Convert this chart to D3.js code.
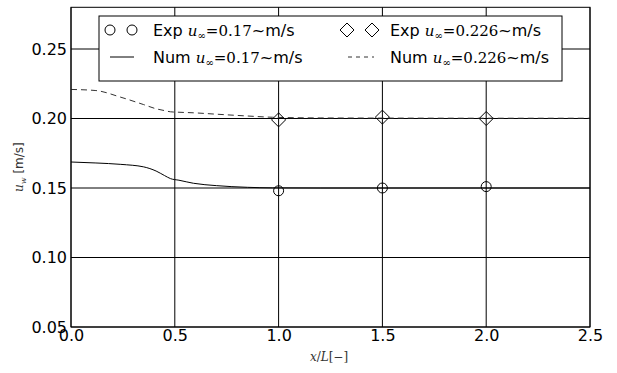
<!DOCTYPE html>
<html>
<head>
<meta charset="utf-8">
<script src="https://cdn.jsdelivr.net/npm/d3@7"></script>
<style>
  html, body { margin: 0; padding: 0; background: #fff; }
  svg { display: block; }
</style>
</head>
<body>
<svg id="chart" width="617" height="373"></svg>
<script>
// Wind velocity along the domain: measured points and numerical profiles
const expX = [1.0, 1.5, 2.0];
const exp017 = [0.148, 0.150, 0.151];
const exp0226 = [0.199, 0.201, 0.200];

const numX = [0.0, 0.12, 0.24, 0.35, 0.41, 0.45, 0.48, 0.52, 0.59, 0.70, 0.85, 0.97, 1.2, 1.5, 2.0, 2.5];
const num017 = [0.1687, 0.1680, 0.1670, 0.1652, 0.1622, 0.1590, 0.1567, 0.1556, 0.1534, 0.1517, 0.1505, 0.1501, 0.1500, 0.1500, 0.1500, 0.1500];
const num0226 = [0.2209, 0.2201, 0.2153, 0.2100, 0.2070, 0.2057, 0.2048, 0.2045, 0.2041, 0.2031, 0.2018, 0.2009, 0.2004, 0.2003, 0.2002, 0.2002];

const xTicks = [0.0, 0.5, 1.0, 1.5, 2.0, 2.5];
const yTicks = [0.05, 0.10, 0.15, 0.20, 0.25];

const svg = d3.select("#chart");
const pL = 71, pR = 590, pT = 7.3, pB = 327;

const x = d3.scaleLinear().domain([0, 2.5]).range([pL, pR]);
const y = d3.scaleLinear().domain([0.05, 0.28]).range([pB, pT]);

const sans = "'DejaVu Sans', sans-serif";
const serif = "'DejaVu Serif', serif";

// grid
const g = svg.append("g");
g.selectAll("line.gx").data(xTicks).enter().append("line")
  .attr("x1", d => x(d)).attr("x2", d => x(d))
  .attr("y1", pT).attr("y2", pB)
  .attr("stroke", "#000").attr("stroke-width", 1);
g.selectAll("line.gy").data(yTicks).enter().append("line")
  .attr("x1", pL).attr("x2", pR)
  .attr("y1", d => y(d)).attr("y2", d => y(d))
  .attr("stroke", "#000").attr("stroke-width", 1);

// tick labels
const xAxis = d3.axisBottom(x).tickValues(xTicks).tickFormat(d3.format(".1f")).tickSize(0).tickPadding(3);
const yAxis = d3.axisLeft(y).tickValues(yTicks).tickFormat(d3.format(".2f")).tickSize(0).tickPadding(4);
const ax = svg.append("g").attr("transform", `translate(0,${pB})`).call(xAxis);
const ay = svg.append("g").attr("transform", `translate(${pL},0)`).call(yAxis);
[ax, ay].forEach(a => {
  a.select(".domain").remove();
  a.selectAll("text").attr("font-family", sans).attr("font-size", 16).attr("fill", "#000");
});

// numerical profiles
const line = d3.line().x((d, i) => x(numX[i])).y(d => y(d)).curve(d3.curveMonotoneX);
svg.append("path").datum(num017).attr("d", line)
  .attr("fill", "none").attr("stroke", "#000").attr("stroke-width", 1);
svg.append("path").datum(num0226).attr("d", line)
  .attr("fill", "none").attr("stroke", "#333").attr("stroke-width", 1)
  .attr("stroke-dasharray", "6,4");

// measured points
const diamond = (cx, cy, r) => `M${cx},${cy - r}L${cx + r},${cy}L${cx},${cy + r}L${cx - r},${cy}Z`;
svg.selectAll("circle.e1").data(exp017).enter().append("circle")
  .attr("cx", (d, i) => x(expX[i])).attr("cy", d => y(d)).attr("r", 5)
  .attr("fill", "none").attr("stroke", "#000").attr("stroke-width", 1);
svg.selectAll("path.e2").data(exp0226).enter().append("path")
  .attr("d", (d, i) => diamond(x(expX[i]), y(d), 7))
  .attr("fill", "none").attr("stroke", "#000").attr("stroke-width", 1);

// frame
svg.append("rect").attr("x", pL).attr("y", pT)
  .attr("width", pR - pL).attr("height", pB - pT)
  .attr("fill", "none").attr("stroke", "#000").attr("stroke-width", 1);

// axis titles
const xt = svg.append("text").attr("x", 329).attr("y", 361)
  .attr("text-anchor", "middle").attr("font-size", 12).attr("fill", "#333")
  .attr("font-family", serif);
xt.append("tspan").attr("font-style", "italic").text("x");
xt.append("tspan").text("/");
xt.append("tspan").attr("font-style", "italic").text("L");
xt.append("tspan").text("[\u2212]");

const yt = svg.append("text")
  .attr("transform", `translate(23,${(pT + pB) / 2}) rotate(-90)`)
  .attr("text-anchor", "middle").attr("font-size", 12).attr("fill", "#333");
yt.append("tspan").attr("font-family", serif).attr("font-style", "italic").attr("font-size", 12).text("u");
yt.append("tspan").attr("font-family", serif).attr("font-style", "italic").attr("font-size", 8).attr("dy", 3).text("w");
yt.append("tspan").attr("font-family", sans).attr("dy", -3).text(" [m/s]");

// legend
const legend = svg.append("g");
legend.append("rect").attr("x", 99).attr("y", 16).attr("width", 463).attr("height", 65)
  .attr("fill", "#fff").attr("stroke", "#000").attr("stroke-width", 1);

function label(tx, ty, prefix, val) {
  const t = legend.append("text").attr("x", tx).attr("y", ty).attr("font-size", 16).attr("fill", "#000");
  t.append("tspan").attr("font-family", sans).text(prefix + " ");
  t.append("tspan").attr("font-family", serif).attr("font-style", "italic").attr("font-size", 15).text("u");
  t.append("tspan").attr("font-family", serif).attr("font-size", 10).attr("dy", 3).text("\u221e");
  t.append("tspan").attr("font-family", serif).attr("font-size", 15).attr("dy", -3).text("=" + val);
  t.append("tspan").attr("font-family", sans).text("~m/s");
}
const r1 = 30, r2 = 57;
[110, 132].forEach(cx => legend.append("circle").attr("cx", cx).attr("cy", r1).attr("r", 5)
  .attr("fill", "none").attr("stroke", "#000"));
[347, 372].forEach(cx => legend.append("path").attr("d", diamond(cx, r1, 7))
  .attr("fill", "none").attr("stroke", "#000"));
legend.append("line").attr("x1", 110).attr("x2", 134).attr("y1", r2).attr("y2", r2)
  .attr("stroke", "#000");
legend.append("line").attr("x1", 348).attr("x2", 374).attr("y1", r2).attr("y2", r2)
  .attr("stroke", "#333").attr("stroke-dasharray", "4,4");
label(153, r1 + 6, "Exp", "0.17");
label(153, r2 + 6, "Num", "0.17");
label(390, r1 + 6, "Exp", "0.226");
label(390, r2 + 6, "Num", "0.226");
</script>
</body>
</html>
